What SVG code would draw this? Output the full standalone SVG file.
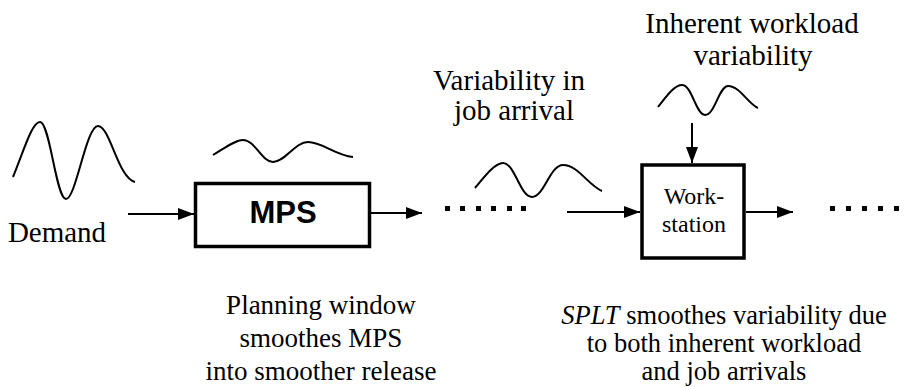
<svg xmlns="http://www.w3.org/2000/svg" width="906" height="387" viewBox="0 0 906 387">
  <defs>
    <style>
      text { fill: #000; text-anchor: middle; font-family: "Liberation Serif", "Times New Roman", serif; }
      .lbl { font-size: 29px; }
      .cap { font-size: 27px; }
      .note { font-size: 26.5px; }
      .small { font-size: 24px; }
      .bold { font-family: "Liberation Sans", Arial, sans-serif; font-size: 31px; font-weight: bold; }
      .wave { fill: none; stroke: #000; stroke-width: 2; }
      .box { fill: #fff; stroke: #000; stroke-width: 3.5; }
      .conn { fill: none; stroke: #000; stroke-width: 2; marker-end: url(#arrow); }
      .dot { fill: #000; }
    </style>
    <marker id="arrow" viewBox="0 0 16 12" refX="16" refY="6" markerWidth="16" markerHeight="12" markerUnits="userSpaceOnUse" orient="auto">
      <path d="M0,0 L16,6 L0,12 Z" fill="#000"/>
    </marker>
  </defs>
  <rect width="906" height="387" fill="#fff"/>

  <!-- demand signal -->
  <g id="demand">
    <path class="wave" d="M13,177 C24,150 32,122 40,122 C50,122 56,199 66,199 C76,199 86,126 98,126 C110,126 118,178 135,182"/>
    <text class="lbl" x="57" y="242">Demand</text>
  </g>

  <!-- master production schedule -->
  <g id="mps">
    <path class="wave" d="M213,155 C225,148 235,140 243,140 C255,140 262,162 273,162 C285,162 295,142 308,142 C322,142 335,155 353,157"/>
    <rect class="box" x="195.5" y="183.5" width="174" height="63"/>
    <text class="bold" x="283" y="223">MPS</text>
  </g>

  <!-- job arrival variability -->
  <g id="arrival">
    <text class="lbl" x="509" y="90">Variability in</text>
    <text class="lbl" x="514" y="120">job arrival</text>
    <path class="wave" d="M475,188 C485,176 495,163 503,163 C515,163 520,197 532,197 C544,197 550,165 563,165 C578,165 588,185 602,191"/>
  </g>

  <!-- inherent workload variability -->
  <g id="workload">
    <text class="lbl" x="752" y="33">Inherent workload</text>
    <text class="lbl" x="753" y="65">variability</text>
    <path class="wave" d="M658,107 C666,97 674,85 682,85 C692,85 696,115 705,115 C715,115 719,86 728,86 C740,86 748,104 758,108"/>
  </g>

  <!-- workstation -->
  <g id="workstation">
    <rect class="box" x="642" y="165" width="102" height="93"/>
    <text class="small" x="694" y="204">Work-</text>
    <text class="small" x="694" y="232">station</text>
  </g>

  <!-- captions -->
  <g id="caption-mps">
    <text class="cap" x="321" y="314">Planning window</text>
    <text class="cap" x="321" y="347">smoothes MPS</text>
    <text class="cap" x="321" y="380">into smoother release</text>
  </g>
  <g id="caption-splt">
    <text class="note" x="724" y="324"><tspan font-style="italic">SPLT</tspan> smoothes variability due</text>
    <text class="note" x="724" y="352">to both inherent workload</text>
    <text class="note" x="724" y="380">and job arrivals</text>
  </g>

  <!-- connectors -->
  <g id="connectors">
    <line class="conn" x1="128" y1="214" x2="194" y2="214"/>
    <line class="conn" x1="371" y1="213" x2="422" y2="213"/>
    <line class="conn" x1="567" y1="212" x2="640" y2="212"/>
    <line class="conn" x1="692" y1="123" x2="692" y2="163"/>
    <line class="conn" x1="746" y1="212" x2="793" y2="212"/>
    <!-- dotted continuations -->
    <g class="dot">
      <rect x="445" y="206" width="5" height="5"/>
      <rect x="460" y="206" width="5" height="5"/>
      <rect x="476" y="206" width="5" height="5"/>
      <rect x="491" y="206" width="5" height="5"/>
      <rect x="507" y="206" width="5" height="5"/>
      <rect x="521" y="206" width="5" height="5"/>
      <rect x="830" y="206" width="5" height="5"/>
      <rect x="846" y="206" width="5" height="5"/>
      <rect x="862" y="206" width="5" height="5"/>
      <rect x="878" y="206" width="5" height="5"/>
      <rect x="894" y="206" width="5" height="5"/>
    </g>
  </g>
</svg>
